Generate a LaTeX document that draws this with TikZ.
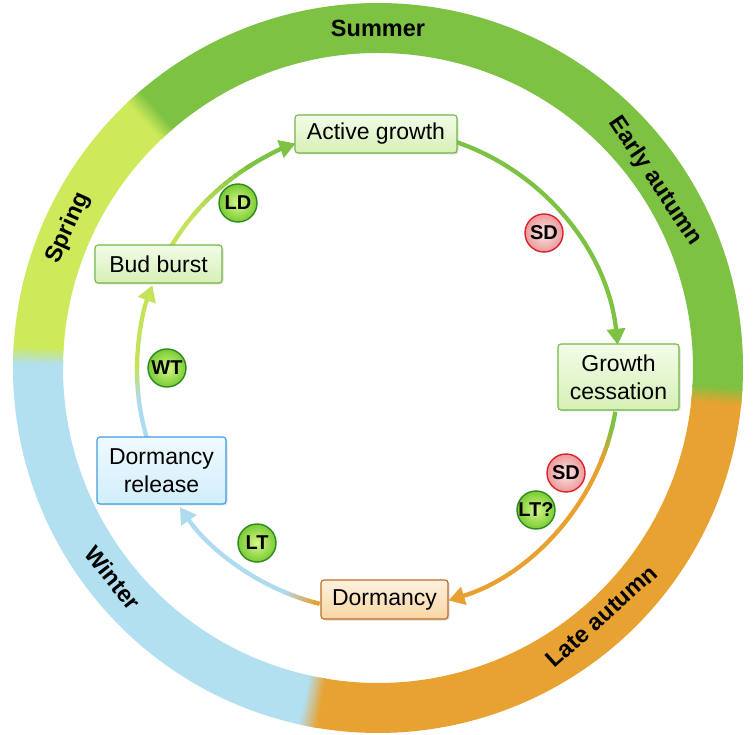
\documentclass[tikz,border=0pt]{standalone}
\usepackage{fontspec}
\setmainfont{Liberation Sans}
\usetikzlibrary{calc,arrows.meta,shadows}

\definecolor{ringG}{HTML}{7DC242}
\definecolor{ringS}{HTML}{CDEA5A}
\definecolor{ringW}{HTML}{B3E0F0}
\definecolor{ringA}{HTML}{E8A231}
\definecolor{arrG}{HTML}{7DC242}
\definecolor{arrS}{HTML}{C4E35A}
\definecolor{arrW}{HTML}{AEDBEF}
\definecolor{arrA}{HTML}{E8A030}
\definecolor{boxGd}{HTML}{72B844}
\definecolor{boxGt}{HTML}{F3FCE8}
\definecolor{boxGb}{HTML}{D6F0B6}
\definecolor{boxOd}{HTML}{BF6A25}
\definecolor{boxOt}{HTML}{FEF1DE}
\definecolor{boxOb}{HTML}{F8D6A4}
\definecolor{boxBd}{HTML}{3E9DE3}
\definecolor{boxBt}{HTML}{F0FAFE}
\definecolor{boxBb}{HTML}{D0EEFB}
\definecolor{badGd}{HTML}{2D8A1E}
\definecolor{badGi}{HTML}{D6F88A}
\definecolor{badGo}{HTML}{7ACB34}
\definecolor{badRd}{HTML}{D8232A}
\definecolor{badRi}{HTML}{FCE6E6}
\definecolor{badRo}{HTML}{EC9A9A}

\def\Rout{365pt}
\def\Rin{315pt}
\def\Rarr{241pt}

\newcommand\ringpart[3]{%
  \fill[fill=#3] ($(O)+(#1:\Rout)$) arc[start angle=#1,end angle=#2,radius=\Rout]
    -- ($(O)+(#2:\Rin)$) arc[start angle=#2,end angle=#1,radius=\Rin] -- cycle;}
\newcommand\ringblend[4]{%
  \foreach \k in {0,...,15}{%
    \pgfmathsetmacro\sa{#1+(#2-#1)*\k/16}%
    \pgfmathsetmacro\ea{#1+(#2-#1)*(\k+1.4)/16}%
    \pgfmathtruncatemacro\pc{100-(\k+0.5)*100/16}%
    \ringpart{\sa}{\ea}{#3!\pc!#4}%
  }}
\newcommand\arcpart[4]{%
  \draw[conn, draw=#3, #4] ($(A)+(#1:\Rarr)$) arc[start angle=#1,end angle=#2,radius=\Rarr];}
\newcommand\arcblend[4]{%
  \foreach \k in {0,...,11}{%
    \pgfmathsetmacro\sa{#1+(#2-#1)*\k/12}%
    \pgfmathsetmacro\ea{#1+(#2-#1)*(\k+1.3)/12}%
    \pgfmathtruncatemacro\pc{100-(\k+0.5)*100/12}%
    \arcpart{\sa}{\ea}{#3!\pc!#4}{}%
  }}

\tikzset{
  stage/.style={rounded corners=3pt, line width=1.1pt, inner sep=0pt, align=center,
    font=\fontsize{23}{28}\selectfont,
    drop shadow={shadow xshift=1.5pt,shadow yshift=-1.5pt,opacity=0.25}},
  gstage/.style={stage, draw=boxGd, top color=boxGt, bottom color=boxGb},
  ostage/.style={stage, draw=boxOd, top color=boxOt, bottom color=boxOb},
  bstage/.style={stage, draw=boxBd, top color=boxBt, bottom color=boxBb},
  badge/.style={circle, minimum size=38pt, inner sep=0pt, line width=1.4pt,
    font=\bfseries\fontsize{20}{21}\selectfont},
  gbadge/.style={badge, draw=badGd, inner color=badGi, outer color=badGo},
  rbadge/.style={badge, draw=badRd, inner color=badRi, outer color=badRo},
  season/.style={font=\bfseries\fontsize{23.5}{26}\selectfont, inner sep=0pt},
  conn/.style={line width=4.3pt},
  tip/.style={-{Triangle[length=16pt,width=18pt]}},
}

\begin{document}
\begin{tikzpicture}[x=1pt,y=1pt]
\useasboundingbox (0,0) rectangle (755,734);
\fill[white] (0,0) rectangle (755,734);
\coordinate (O) at (378,366);
\coordinate (A) at (378,364);

% seasonal ring
\ringpart{-3.5}{131}{ringG}
\ringpart{132.5}{177}{ringS}
\ringpart{178.5}{258}{ringW}
\ringpart{259.5}{355}{ringA}
\ringblend{130.5}{133.5}{ringG}{ringS}
\ringblend{176.5}{179.5}{ringS}{ringW}
\ringblend{257.5}{260.5}{ringW}{ringA}
\ringblend{354}{357}{ringA}{ringG}

% season labels
\node[season] (summer) at ($(O)+(90:340pt)$) {Summer};
\node[season, rotate=-56] (early) at ($(O)+(34:334pt)$) {Early autumn};
\node[season, rotate=42] (late) at ($(O)+(-48:334pt)$) {Late autumn};
\node[season, rotate=-51.6] (winter) at ($(O)+(218.4:338pt)$) {Winter};
\node[season, rotate=65.7] (spring) at ($(O)+(155.7:340pt)$) {Spring};

% connectors (arcs about A)
% bud burst -> active growth
\arcpart{149}{139}{arrS}{}
\arcblend{140}{122}{arrS}{arrG}
\arcpart{123}{110}{arrG}{tip}
% active growth -> growth cessation
\arcpart{71}{6}{arrG}{tip}
% growth cessation -> dormancy
\arcpart{-10}{-14}{arrG}{}
\arcblend{-13.5}{-22}{arrG}{arrA}
\arcpart{-21.5}{-73}{arrA}{tip}
% dormancy -> dormancy release
\arcpart{256}{254.5}{arrA}{}
\arcblend{255}{247}{arrA}{arrW}
\arcpart{247.5}{214.7}{arrW}{tip}
% dormancy release -> bud burst
\arcpart{196.5}{187}{arrW}{}
\arcblend{187.5}{179}{arrW}{arrS}
\arcpart{179.5}{159.4}{arrS}{tip}

% stages
\node[gstage, minimum width=162pt, minimum height=38pt] (ag) at (376,600) {Active growth};
\node[gstage, minimum width=121pt, minimum height=66pt] (gc) at (618.5,357) {Growth\\cessation};
\node[ostage, minimum width=127pt, minimum height=39pt] (dm) at (384.5,134.5) {Dormancy};
\node[bstage, minimum width=129pt, minimum height=67pt] (dr) at (161.5,263.5) {Dormancy\\release};
\node[gstage, minimum width=127pt, minimum height=38pt] (bb) at (158.5,470) {Bud burst};

% badges
\node[gbadge] (ld) at (238,531) {LD};
\node[rbadge] (sd1) at (544,501) {SD};
\node[rbadge] (sd2) at (566,261) {SD};
\node[gbadge] (ltq) at (536,224) {LT?};
\node[gbadge] (lt) at (257,191) {LT};
\node[gbadge] (wt) at (167,366) {WT};
\end{tikzpicture}
\end{document}
